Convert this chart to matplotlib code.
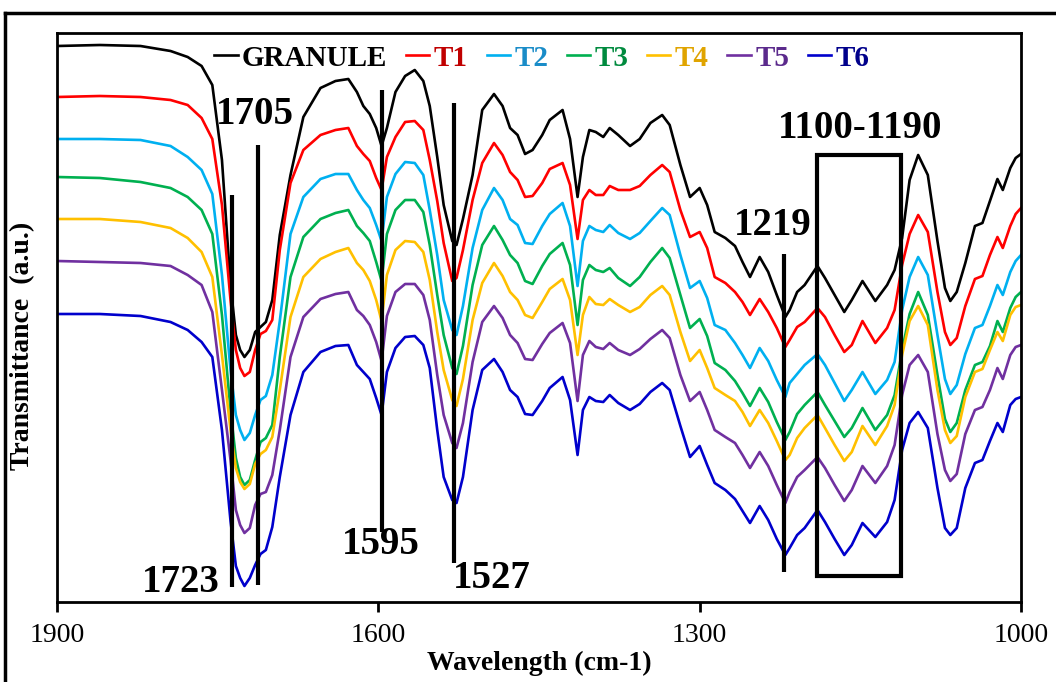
import matplotlib
matplotlib.use('Agg')
import matplotlib.pyplot as plt
from matplotlib.lines import Line2D
from matplotlib.patches import Rectangle

# FTIR spectra, wavenumber (cm-1) and transmittance (a.u., curves offset)
wavenumber = [1900, 1860, 1822, 1794, 1778, 1765, 1755, 1746, 1738, 1733,
              1729, 1725, 1720, 1715, 1710, 1705, 1699, 1692, 1682, 1670,
              1654, 1640, 1628, 1620, 1614, 1608, 1602, 1597, 1592, 1584,
              1575, 1566, 1558, 1552, 1545, 1539, 1531, 1527, 1521, 1512,
              1503, 1492, 1484, 1477, 1470, 1463, 1456, 1447, 1440, 1428,
              1421, 1414, 1409, 1403, 1397, 1390, 1384, 1376, 1365, 1356,
              1346, 1335, 1328, 1318, 1309, 1300, 1293, 1286, 1276, 1267,
              1260, 1253, 1244, 1236, 1228, 1220, 1216, 1209, 1202, 1190,
              1183, 1174, 1165, 1158, 1148, 1136, 1125, 1118, 1111, 1104,
              1096, 1087, 1078, 1071, 1066, 1060, 1052, 1043, 1036, 1029,
              1022, 1017, 1010, 1005, 1000]

granule = [554, 555, 554, 549, 543, 534, 515, 440, 315, 265,
           250, 243, 250, 268, 273, 278, 300, 365, 425, 483,
           512, 519, 521, 508, 494, 486, 472, 454, 472, 508,
           524, 530, 519, 494, 443, 395, 359, 355, 381, 425,
           490, 506, 494, 472, 465, 446, 450, 465, 480, 490,
           461, 403, 443, 470, 468, 463, 472, 465, 454, 461,
           477, 485, 475, 435, 403, 412, 395, 368, 362, 354,
           338, 323, 343, 328, 305, 283, 290, 308, 315, 334,
           322, 305, 288, 300, 319, 299, 315, 330, 362, 420,
           445, 425, 359, 312, 299, 308, 337, 374, 377, 399,
           421, 410, 432, 442, 446]

t1 = [503, 504, 503, 500, 495, 482, 461, 395, 300, 250,
      232, 224, 228, 250, 266, 269, 280, 350, 417, 450,
      465, 470, 472, 454, 446, 439, 422, 410, 443, 463,
      478, 479, 470, 440, 399, 357, 319, 322, 350, 400,
      437, 457, 445, 428, 420, 403, 404, 417, 431, 437,
      415, 361, 400, 410, 405, 405, 414, 410, 410, 414,
      425, 435, 428, 390, 363, 368, 352, 323, 317, 308,
      298, 285, 301, 288, 272, 253, 260, 273, 278, 292,
      283, 265, 248, 255, 279, 257, 272, 290, 335, 366,
      385, 368, 308, 268, 255, 262, 294, 321, 324, 345,
      363, 352, 374, 386, 392]

t2 = [461, 461, 460, 454, 443, 430, 406, 325, 230, 185,
      170, 160, 167, 185, 200, 204, 225, 279, 366, 403,
      421, 426, 426, 410, 400, 392, 375, 359, 403, 426,
      438, 437, 425, 390, 345, 300, 270, 265, 294, 352,
      390, 412, 400, 381, 375, 357, 356, 374, 386, 397,
      374, 314, 359, 374, 370, 368, 375, 367, 361, 367,
      379, 392, 385, 345, 312, 319, 302, 275, 270, 257,
      245, 232, 252, 239, 220, 203, 217, 226, 235, 246,
      235, 217, 199, 210, 228, 206, 220, 238, 290, 323,
      343, 325, 265, 221, 206, 215, 246, 272, 275, 294,
      315, 305, 328, 339, 345]

t3 = [423, 422, 418, 412, 403, 390, 366, 285, 190, 142,
      123, 115, 120, 140, 158, 162, 175, 243, 323, 363,
      381, 387, 390, 374, 367, 359, 338, 319, 366, 390,
      400, 400, 388, 355, 305, 265, 232, 226, 254, 315,
      355, 374, 360, 345, 337, 319, 316, 334, 346, 357,
      335, 275, 320, 335, 330, 328, 332, 322, 314, 323,
      338, 352, 342, 305, 272, 281, 264, 237, 230, 219,
      207, 194, 212, 198, 178, 160, 168, 186, 195, 208,
      195, 179, 163, 172, 192, 170, 185, 205, 250, 286,
      308, 285, 225, 181, 168, 177, 210, 235, 238, 254,
      279, 268, 292, 303, 308]

t4 = [381, 381, 378, 372, 362, 348, 323, 245, 170, 132,
      118, 111, 116, 136, 146, 150, 163, 210, 283, 323,
      341, 348, 352, 337, 330, 319, 300, 279, 325, 350,
      359, 358, 348, 320, 268, 230, 200, 194, 221, 280,
      317, 337, 324, 308, 300, 285, 282, 298, 311, 321,
      300, 245, 285, 303, 296, 295, 301, 295, 288, 293,
      305, 314, 305, 268, 239, 250, 232, 212, 205, 199,
      188, 174, 190, 177, 159, 140, 145, 162, 172, 185,
      172, 155, 139, 148, 174, 155, 174, 195, 245, 279,
      294, 275, 210, 170, 157, 164, 203, 228, 231, 250,
      268, 259, 285, 293, 295]

t5 = [339, 338, 337, 334, 325, 315, 288, 210, 140, 90,
      75, 67, 72, 95, 106, 108, 125, 170, 243, 283,
      301, 306, 308, 290, 284, 275, 258, 239, 284, 308,
      316, 316, 305, 280, 225, 185, 157, 152, 177, 238,
      278, 294, 282, 265, 257, 241, 240, 256, 267, 277,
      257, 199, 245, 259, 253, 251, 257, 250, 245, 251,
      261, 270, 262, 225, 199, 208, 190, 170, 163, 157,
      145, 132, 148, 134, 115, 97, 108, 123, 130, 143,
      132, 115, 99, 110, 134, 117, 134, 155, 205, 235,
      245, 228, 166, 130, 119, 126, 166, 190, 193, 210,
      232, 221, 245, 253, 255]

t6 = [286, 286, 284, 278, 270, 258, 243, 170, 79, 34,
      22, 14, 22, 35, 46, 50, 73, 123, 185, 228,
      248, 254, 255, 235, 228, 221, 202, 185, 228, 252,
      263, 264, 255, 232, 170, 123, 100, 97, 123, 190,
      230, 241, 228, 210, 203, 186, 185, 199, 212, 223,
      200, 145, 190, 203, 199, 198, 205, 197, 190, 196,
      208, 217, 210, 174, 143, 154, 135, 117, 110, 101,
      89, 77, 94, 80, 61, 45, 52, 65, 72, 90,
      78, 61, 45, 55, 77, 63, 78, 100, 150, 177,
      188, 172, 112, 72, 65, 72, 112, 137, 140, 159,
      177, 168, 195, 201, 203]

names = ['GRANULE', 'T1', 'T2', 'T3', 'T4', 'T5', 'T6']
series = [granule, t1, t2, t3, t4, t5, t6]
colors = ['#000000', '#FF0000', '#00B0F0', '#00B050', '#FFC000', '#7030A0', '#0000CC']
text_colors = ['#000000', '#C00000', '#1A8CC8', '#008A3E', '#E0A400', '#5B2A8C', '#00008B']

plt.rcParams['font.family'] = 'Liberation Serif'

fig = plt.figure(figsize=(10.56, 6.82), dpi=100)
ax = fig.add_axes([57 / 1056, 80 / 682, 964 / 1056, 569 / 682])

for name, vals, c in zip(names, series, colors):
    ax.plot(wavenumber, vals, color=c, lw=1.9, label=name)

ax.set_xlim(1900, 1000)
ax.set_ylim(-2, 567)
ax.set_xticks([1900, 1600, 1300, 1000])
ax.set_yticks([])
ax.tick_params(axis='x', direction='out', length=7, width=2, labelsize=20, pad=8)
for s in ax.spines.values():
    s.set_linewidth(2)

ax.set_xlabel('Wavelength (cm-1)', fontsize=20, fontweight='bold', labelpad=2)
ax.set_ylabel('Transmittance  (a.u.)', fontsize=20, fontweight='bold')
ax.yaxis.set_label_coords(-0.023, 0.45)

# peak markers
ax.vlines(1737, 13, 405, color='black', lw=3, zorder=5)
ax.vlines(1712, 15, 455, color='black', lw=3, zorder=5)
ax.vlines(1597, 68, 510, color='black', lw=3, zorder=5)
ax.vlines(1529, 37, 497, color='black', lw=3, zorder=5)
ax.vlines(1221, 28, 346, color='black', lw=3, zorder=5)
ax.add_patch(Rectangle((1112, 24), 78, 421, fill=False, ec='black', lw=3, zorder=5))

lab = dict(fontsize=28, fontweight='bold', ha='center', va='center', zorder=6)
ax.text(1784, 18, '1723', **lab)
ax.text(1715, 485, '1705', **lab)
ax.text(1598, 55, '1595', **lab)
ax.text(1494, 22, '1527', **lab)
ax.text(1232, 375, '1219', **lab)
ax.text(1150, 472, '1100-1190', **lab)

leg = ax.legend(loc='center', bbox_to_anchor=(0.503, 0.956), ncol=7, frameon=False,
                handlelength=0.8, handletextpad=0.15, columnspacing=0.64,
                prop={'weight': 'bold', 'size': 21}, labelcolor=text_colors)

# outer border of the picture
fig.add_artist(Line2D([5 / 1056, 5 / 1056], [0, 1 - 13 / 682], color='black', lw=2.5))
fig.add_artist(Line2D([5 / 1056, 1], [1 - 13 / 682, 1 - 13 / 682], color='black', lw=2.5))

fig.savefig('out.png', dpi=100)
